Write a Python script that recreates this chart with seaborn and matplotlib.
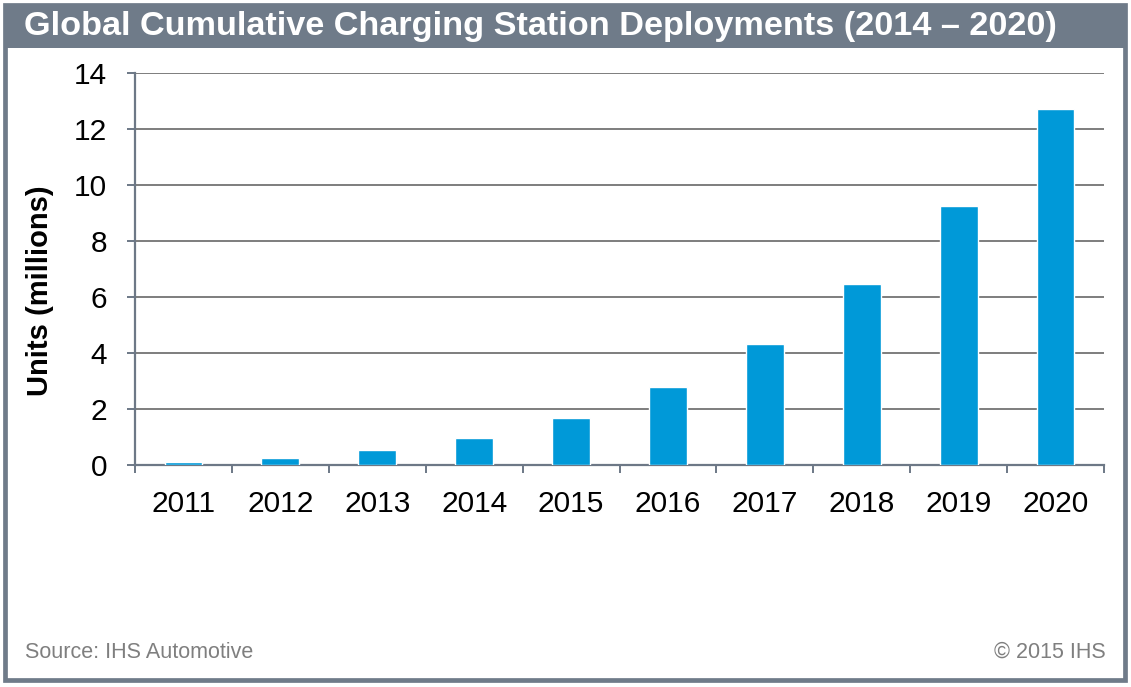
import numpy as np
import pandas as pd
import matplotlib
matplotlib.use("Agg")
import matplotlib.pyplot as plt
from matplotlib.patches import Rectangle
import seaborn as sns

years = ["2011", "2012", "2013", "2014", "2015", "2016", "2017", "2018", "2019", "2020"]
units_millions = [0.1, 0.25, 0.54, 0.97, 1.68, 2.78, 4.32, 6.45, 9.25, 12.72]
y_ticks = [0, 2, 4, 6, 8, 10, 12, 14]

title = "Global Cumulative Charging Station Deployments (2014 \u2013 2020)"
ylabel = "Units (millions)"
source = "Source: IHS Automotive"
copyright_txt = "\u00a9 2015 IHS"

sns.set_theme(style="white")
plt.rcParams["font.family"] = ["Liberation Sans", "DejaVu Sans"]

W, H = 1131, 687
fig = plt.figure(figsize=(W / 100, H / 100), dpi=100)
fig.patch.set_facecolor("white")

frame_col = "#6f7b89"
bar_col = "#0099d8"
grid_col = "#7d7d7d"
spine_col = "#6d7886"

def fx(px):
    return px / W

def fy(py):
    return 1 - py / H

# header band and outer border
fig.patches.append(Rectangle((fx(5), fy(48)), fx(1125) - fx(5), fy(5) - fy(48),
                             transform=fig.transFigure, facecolor=frame_col,
                             edgecolor="none", zorder=0))
fig.patches.append(Rectangle((fx(5), fy(680)), fx(1125) - fx(5), fy(5) - fy(680),
                             transform=fig.transFigure, facecolor="none",
                             edgecolor=frame_col, linewidth=3.4, zorder=1))

fig.text(fx(24), fy(27), title, color="white", fontsize=24.7, fontweight="bold",
         ha="left", va="center")

ax = fig.add_axes([fx(135), fy(465), fx(1104) - fx(135), fy(73) - fy(465)])
df = pd.DataFrame({"year": years, "units": units_millions})
sns.barplot(data=df, x="year", y="units", color=bar_col, saturation=1, width=0.39,
            ax=ax, zorder=3)

ax.set_xlim(-0.5, len(years) - 0.5)
ax.set_ylim(0, 14)
ax.set_yticks(y_ticks)
ax.set_yticklabels([str(t) for t in y_ticks])
ax.set_xlabel("")
ax.set_ylabel("")
ax.set_axisbelow(True)
ax.yaxis.grid(True, color=grid_col, linewidth=1.4)
ax.xaxis.grid(False)

for s in ["top", "right"]:
    ax.spines[s].set_visible(False)
for s in ["left", "bottom"]:
    ax.spines[s].set_color(spine_col)
    ax.spines[s].set_linewidth(1.6)

ax.tick_params(axis="y", which="major", direction="out", length=6, width=1.4,
               color=spine_col, labelsize=21.5, pad=14, left=True, labelcolor="black")
ax.set_xticks(np.arange(-0.5, len(years), 1), minor=True)
ax.tick_params(axis="x", which="minor", direction="out", length=6, width=1.4,
               color=spine_col, bottom=True)
ax.tick_params(axis="x", which="major", length=0, labelsize=21.5, pad=18, labelcolor="black")

fig.text(fx(40), fy(291), ylabel, rotation=90, fontsize=21, fontweight="bold",
         ha="center", va="center", color="black")

fig.text(fx(25), fy(652), source, fontsize=15.5, color="#7f7f7f", ha="left", va="center")
fig.text(fx(1106), fy(652), copyright_txt, fontsize=15.5, color="#7f7f7f", ha="right", va="center")

fig.savefig("out.png", dpi=100, facecolor="white")
